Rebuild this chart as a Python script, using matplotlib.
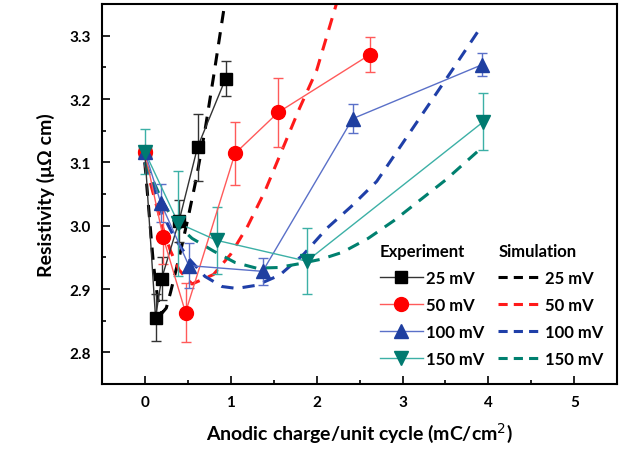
import matplotlib
matplotlib.use("Agg")
import matplotlib.pyplot as plt
import numpy as np
from matplotlib.ticker import MultipleLocator
from matplotlib.lines import Line2D

plt.rcParams['font.family'] = ['Lato', 'DejaVu Sans']

# Experiment data (x, resistivity, error)
x25 = [0.0, 0.125, 0.195, 0.40, 0.614, 0.94]
y25 = [3.117, 2.855, 2.916, 3.008, 3.124, 3.232]
e25 = [0.0, 0.037, 0.034, 0.033, 0.053, 0.028]

x50 = [0.0, 0.213, 0.474, 1.05, 1.554, 2.62]
y50 = [3.117, 2.982, 2.863, 3.114, 3.179, 3.270]
e50 = [0.0, 0.043, 0.046, 0.049, 0.054, 0.028]

x100 = [0.0, 0.186, 0.513, 1.372, 2.42, 3.924]
y100 = [3.117, 3.036, 2.937, 2.928, 3.169, 3.254]
e100 = [0.0, 0.030, 0.035, 0.021, 0.023, 0.018]

x150 = [0.0, 0.39, 0.835, 1.885, 3.94]
y150 = [3.117, 3.004, 2.977, 2.944, 3.164]
e150 = [0.035, 0.083, 0.053, 0.052, 0.045]

# Simulation curves
sx25 = [0.0, 0.05, 0.10, 0.15, 0.20, 0.25, 0.30, 0.40, 0.50, 0.60, 0.70, 0.80, 0.93]
sy25 = [3.10, 3.02, 2.94, 2.885, 2.862, 2.87, 2.895, 2.95, 3.01, 3.075, 3.15, 3.235, 3.35]

sx50 = [0.0, 0.1, 0.2, 0.3, 0.4, 0.55, 0.8, 1.0, 1.2, 1.4, 1.6, 1.8, 2.0, 2.23]
sy50 = [3.10, 3.05, 3.0, 2.96, 2.93, 2.908, 2.923, 2.955, 3.0, 3.055, 3.12, 3.185, 3.245, 3.35]

sx100 = [0.0, 0.1, 0.2, 0.35, 0.5, 0.7, 0.9, 1.07, 1.3, 1.57, 1.85, 2.12, 2.4, 2.7, 3.0, 3.3, 3.6, 3.88]
sy100 = [3.10, 3.06, 3.02, 2.98, 2.95, 2.92, 2.904, 2.901, 2.906, 2.922, 2.955, 2.996, 3.03, 3.07, 3.13, 3.19, 3.25, 3.307]

sx150 = [0.0, 0.1, 0.2, 0.35, 0.55, 0.8, 1.05, 1.3, 1.55, 1.8, 2.05, 2.3, 2.6, 2.9, 3.2, 3.5, 3.88]
sy150 = [3.10, 3.07, 3.04, 3.005, 2.98, 2.96, 2.942, 2.933, 2.934, 2.94, 2.947, 2.958, 2.98, 3.008, 3.04, 3.072, 3.118]

labels = ['25 mV', '50 mV', '100 mV', '150 mV']

fig = plt.figure(figsize=(6.21, 4.52), dpi=100)
ax = fig.add_axes([0.164, 0.148, 0.830, 0.841])

# simulation first
sims = [(sx25, sy25, '#000000'), (sx50, sy50, '#ff1a1a'),
        (sx100, sy100, '#1f3fa8'), (sx150, sy150, '#00806f')]
for sx, sy, c in sims:
    ax.plot(sx, sy, '--', color=c, lw=2.2, dashes=(4, 3), zorder=2)

exps = [(x25, y25, e25, 's', '#000000', '#333333', 9),
        (x50, y50, e50, 'o', '#ff0000', '#ff5a5a', 10),
        (x100, y100, e100, '^', '#1f3fa0', '#5a70c8', 10),
        (x150, y150, e150, 'v', '#007a70', '#3cb0a6', 10)]
for x, y, e, m, mc, lc, ms in exps:
    ax.errorbar(x, y, yerr=e, fmt='-', color=lc, lw=1.0, capsize=3.5,
                elinewidth=1.0, zorder=3)
    ax.plot(x, y, ls='none', marker=m, color=mc, ms=ms, zorder=4)

ax.set_xlim(-0.5, 5.5)
ax.set_ylim(2.75, 3.35)
ax.xaxis.set_major_locator(MultipleLocator(1))
ax.xaxis.set_minor_locator(MultipleLocator(0.5))
ax.yaxis.set_major_locator(MultipleLocator(0.1))
ax.yaxis.set_minor_locator(MultipleLocator(0.05))
ax.yaxis.set_major_formatter(plt.FormatStrFormatter('%.1f'))
ax.tick_params(which='both', direction='in', top=False, right=False)
ax.tick_params(which='major', length=6, width=1.2, labelsize=11, pad=8)
ax.tick_params(which='minor', length=3, width=1.2)
for lab in ax.get_xticklabels() + ax.get_yticklabels():
    lab.set_fontweight('bold')
for s in ax.spines.values():
    s.set_linewidth(1.5)

ax.set_xlabel('Anodic charge/unit cycle (mC/cm$^2$)', fontsize=14, fontweight='bold', labelpad=8)
ax.set_ylabel('Resistivity (\u03bc\u03a9 cm)', fontsize=14, fontweight='bold', labelpad=10)

# legends
h_exp = [Line2D([], [], color=lc, lw=1.0, marker=m, mfc=mc, mec=mc, ms=ms)
         for x, y, e, m, mc, lc, ms in exps]
h_sim = [Line2D([], [], color=c, lw=2.2, ls='--', dashes=(3, 2)) for sx, sy, c in sims]
leg1 = ax.legend(h_exp, labels, title='Experiment', loc='upper left',
                 bbox_to_anchor=(0.51, 0.41), frameon=False, fontsize=12,
                 title_fontsize=12, handlelength=2.6, handletextpad=0.2,
                 labelspacing=0.66, alignment='left')
ax.add_artist(leg1)
leg2 = ax.legend(h_sim, labels, title='Simulation', loc='upper left',
                 bbox_to_anchor=(0.74, 0.41), frameon=False, fontsize=12,
                 title_fontsize=12, handlelength=2.6, handletextpad=0.2,
                 labelspacing=0.66, alignment='left')
for lg in (leg1, leg2):
    lg.get_title().set_fontweight('bold')
    for t in lg.get_texts():
        t.set_fontweight('bold')

fig.savefig('out.png', dpi=100)
